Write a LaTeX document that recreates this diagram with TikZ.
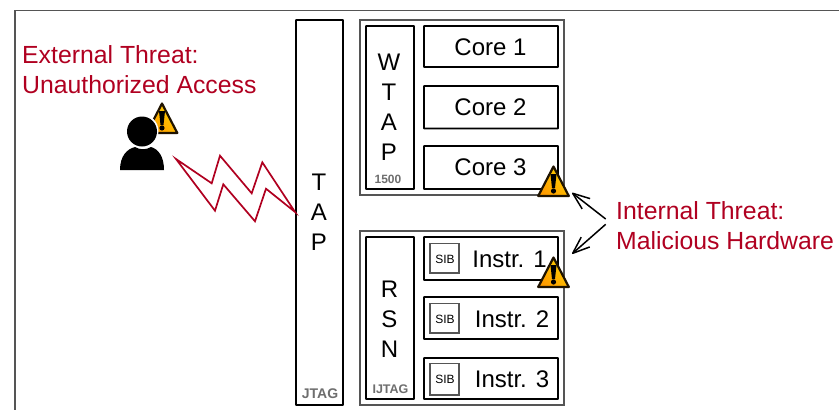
\documentclass[tikz,border=0pt]{standalone}
\usepackage{fontspec}
\setmainfont{Liberation Sans}
\usetikzlibrary{arrows.meta}
\definecolor{threat}{HTML}{B00020}
\definecolor{framegray}{HTML}{555555}
\definecolor{smallgray}{HTML}{6E6E6E}
\definecolor{warnA}{HTML}{FFD000}
\definecolor{warnB}{HTML}{FF9C00}
\pgfdeclarearrow{
  name=PlainBarb,
  setup code={\pgfarrowssettipend{0pt}\pgfarrowssetlineend{-0.5pt}\pgfarrowssetvisualbackend{-17pt}\pgfarrowssetbackend{-17pt}},
  drawing code={
    \pgfsetdash{}{0pt}\pgfsetroundjoin\pgfsetbuttcap
    \pgfpathmoveto{\pgfqpoint{-17pt}{6.5pt}}
    \pgfpathlineto{\pgfqpoint{0pt}{0pt}}
    \pgfpathlineto{\pgfqpoint{-17pt}{-6.5pt}}
    \pgfusepathqstroke}
}
\tikzset{
  blackbox/.style={draw=black,line width=1.9pt,fill=white,inner sep=0pt,rounded corners=0.5pt},
  graybox/.style={draw=framegray,line width=1.3pt,fill=white,inner sep=0pt},
  sibbox/.style={draw=framegray,line width=1.3pt,fill=white,inner sep=0pt},
  big/.style={font=\fontsize{24}{28}\selectfont,anchor=base,inner sep=0pt},
  redtext/.style={font=\fontsize{24.8}{28}\selectfont,anchor=base west,inner sep=0pt,text=threat},
  tiny/.style={font=\fontsize{12}{14}\selectfont,anchor=base,inner sep=0pt},
  tinyb/.style={font=\fontsize{14}{14}\selectfont\bfseries,anchor=base,inner sep=0pt,text=smallgray},
  threatarrow/.style={draw=black,line width=1.5pt,-{PlainBarb}},
  bolt/.style={draw=threat,line width=1.7pt,line join=miter},
}
% \rbox{name}{style}{x1}{y1}{x2}{y2}
\newcommand{\rbox}[6]{%
  \pgfmathsetmacro{\rw}{#5-#3}\pgfmathsetmacro{\rh}{#6-#4}%
  \pgfmathsetmacro{\rx}{(#3+#5)/2}\pgfmathsetmacro{\ry}{(#4+#6)/2}%
  \node[#2,minimum width=\rw pt,minimum height=\rh pt] (#1) at (\rx,\ry) {};}
% \warnsign{apex x}{apex y}: triangle of height 32
\newcommand{\warnsign}[2]{%
  \begin{scope}[shift={(#1,#2)}]
    \shade[shading=axis,left color=warnA,right color=warnB,shading angle=-45]
      (0,1.5) -- (15.3,31) -- (-15.3,31) -- cycle;
    \draw[line width=2.2pt,draw=black!88!warnB,line join=round]
      (0,1.5) -- (15.3,31) -- (-15.3,31) -- cycle;
    \fill[black] (-3,9) -- (3,9) -- (1.5,23) -- (-1.5,23) -- cycle;
    \fill[black] (0,26) circle (2.6);
  \end{scope}}
\begin{document}
\begin{tikzpicture}[x=1pt,y=-1pt]
  \useasboundingbox (0,0) rectangle (839,410);
  \begin{scope}
    \clip (0,0) rectangle (839,410);
    \draw[draw=framegray,line width=1.3pt] (15,425) -- (15,10.5) -- (850,10.5);
  \end{scope}

  % external threat
  \node[redtext] (ext1) at (22,63) {External Threat:};
  \node[redtext] (ext2) at (22,93) {Unauthorized Access};
  \warnsign{162}{102}
  \fill[black] (120,170) .. controls (120,156) and (127,149) .. (135,147)
     .. controls (140,150) and (146,150) .. (151,147)
     .. controls (158,149) and (164,156) .. (164,170) -- cycle;
  \fill[white] (142,131) circle (16.5);
  \fill[black] (142,131.5) circle (15);

  % TAP
  \rbox{tap}{blackbox}{296}{20}{343}{405}
  \node[big] (tapT) at (319,190) {T};
  \node[big] (tapA) at (319,220) {A};
  \node[big] (tapP) at (319,250) {P};
  \node[tinyb] (jtag) at (320,398) {JTAG};

  % lightning
  \coordinate (boltstart) at (176,159);
  \coordinate (boltend) at (tap.west |- 0,212);
  \draw[bolt] (boltstart) -- (211.7,183.3) -- (220,155.7) -- (251.7,193.3) -- (262.3,162.3)
     -- (boltend) -- (266,188.7) -- (255,221.3) -- (223.3,184.3) -- (215,210.7) -- cycle;

  % WTAP group
  \rbox{wgroup}{graybox}{360}{20}{564}{195}
  \rbox{wtap}{blackbox}{366}{26}{414}{189}
  \node[big] (wW) at (389,70) {W};
  \node[big] (wT) at (389,100) {T};
  \node[big] (wA) at (389,130) {A};
  \node[big] (wP) at (389,160) {P};
  \node[tinyb,font=\fontsize{12}{14}\selectfont\bfseries] (w1500) at (388,183) {1500};
  \rbox{core1}{blackbox}{424}{26}{558}{67}
  \rbox{core2}{blackbox}{424}{86}{558}{128.5}
  \rbox{core3}{blackbox}{424}{146}{558}{189}
  \node[big] (c1t) at (490.5,55) {Core 1};
  \node[big] (c2t) at (490.5,115) {Core 2};
  \node[big] (c3t) at (490.5,175) {Core 3};

  % RSN group
  \rbox{rgroup}{graybox}{360}{231}{564}{405}
  \rbox{rsn}{blackbox}{366}{237}{414}{399}
  \node[big] (rR) at (389.5,297) {R};
  \node[big] (rS) at (389.5,327) {S};
  \node[big] (rN) at (389.5,357) {N};
  \node[tinyb,font=\fontsize{12.5}{14}\selectfont\bfseries] (ijtag) at (390.5,393) {IJTAG};
  \rbox{ins1}{blackbox}{424}{237}{558}{280}
  \rbox{ins2}{blackbox}{424}{297}{558}{339}
  \rbox{ins3}{blackbox}{424}{358}{558}{399}
  \rbox{sib1}{sibbox}{430}{243.5}{459}{273}
  \rbox{sib2}{sibbox}{430}{303.5}{459}{333}
  \rbox{sib3}{sibbox}{430}{363.5}{459}{395}
  \node[tiny] (s1t) at (445,263) {SIB};
  \node[tiny] (s2t) at (445,323) {SIB};
  \node[tiny] (s3t) at (445,383.5) {SIB};
  \node[big] (i1t) at (509.5,267) {Instr. 1};
  \node[big] (i2t) at (512,327) {Instr. 2};
  \node[big] (i3t) at (512,387) {Instr. 3};

  % warnings on hardware
  \warnsign{553.5}{165}
  \warnsign{553.5}{256}

  % internal threat
  \node[redtext] (int1) at (616,219) {Internal Threat:};
  \node[redtext] (int2) at (616,249) {Malicious Hardware};
  \coordinate (a1s) at (605.7,219);
  \coordinate (a1e) at (572.7,193.3);
  \coordinate (a2s) at (605.7,224.3);
  \coordinate (a2e) at (572.7,253.3);
  \draw[threatarrow] (a1s) -- (a1e);
  \draw[threatarrow] (a2s) -- (a2e);
\end{tikzpicture}
\end{document}
